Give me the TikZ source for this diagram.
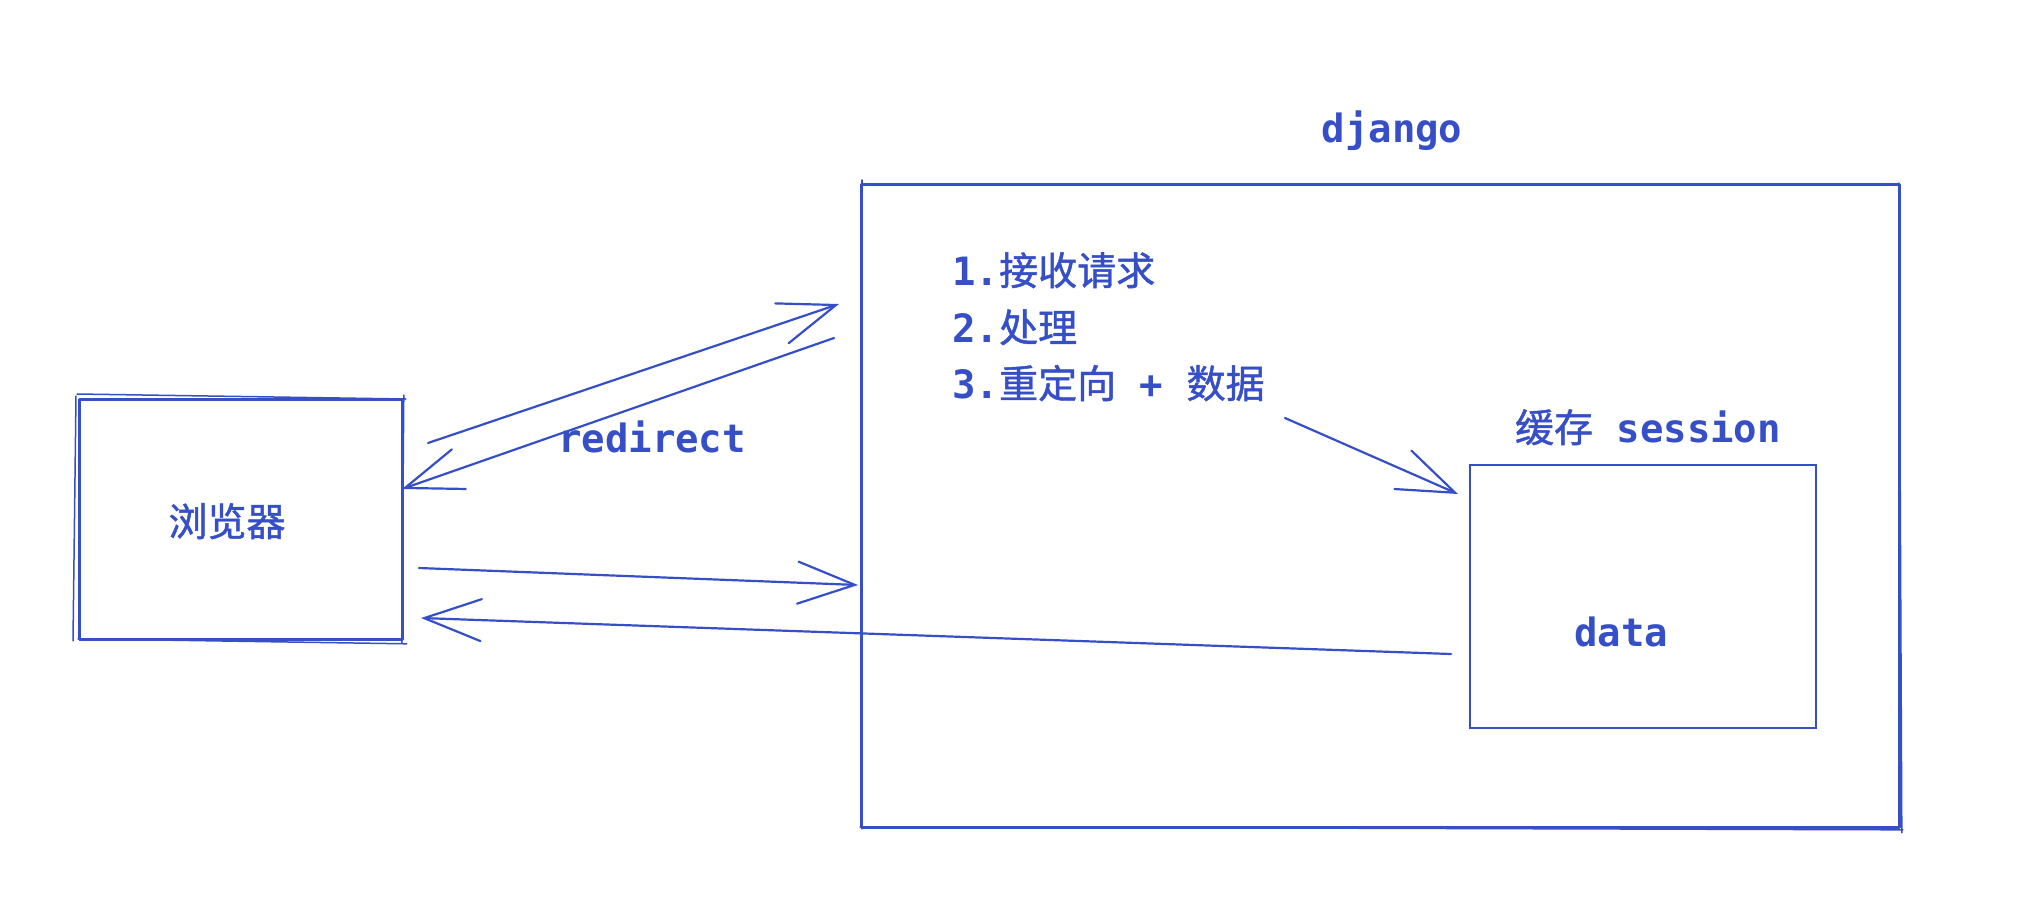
\documentclass[tikz,border=0pt]{standalone}
\usepackage{fontspec}
\usetikzlibrary{arrows.meta,calc}
\newfontfamily\cjkfont{Noto Sans CJK SC}[FakeBold=1.2]
\newfontfamily\monofont{DejaVu Sans Mono}
\newcommand\M[1]{{\monofont\bfseries #1}}
\newcommand\C[1]{{\cjkfont\mdseries #1}}
\definecolor{ink}{HTML}{364FC7}
\begin{document}
\begin{tikzpicture}[x=1pt,y=-1pt,
  boxline/.style={draw=ink,line width=2.8pt,line join=round,inner sep=0pt},
  thinbox/.style={draw=ink,line width=2pt,inner sep=0pt},
  sketchline/.style={draw=ink,line width=1.5pt,line cap=round},
  conn/.style={draw=ink,line width=2.2pt,line cap=round,line join=round,
    -{Straight Barb[length=57pt,width=42pt,line cap=round]}},
  txt/.style={text=ink,inner sep=0pt,font=\fontsize{39}{47}\selectfont}]
\useasboundingbox[fill=white] (0,0) rectangle (2044,908);

% boxes
\node[boxline,anchor=north west,minimum width=323pt,minimum height=240pt] (browser) at (78,398) {};
\node[boxline,anchor=north west,minimum width=1038pt,minimum height=643pt] (django) at (860,183) {};
\node[thinbox,anchor=north west,minimum width=346pt,minimum height=263pt] (session) at (1469,464) {};

% sketchy second strokes
\draw[sketchline] ($(browser.north west)+(-1,-4)$) -- ($(browser.north east)+(2,1)$);
\draw[sketchline] ($(browser.north west)+(-2,-2)$) -- ($(browser.south west)+(-5,0)$);
\draw[sketchline] ($(browser.north east)+(0,-3)$) -- ($(browser.south east)+(-2,2)$);
\draw[sketchline] ($(browser.south west)+(0,-2)$) -- ($(browser.south east)+(3,3)$);
\draw[sketchline] ($(django.north west)+(2,-3)$) -- ($(django.south west)+(2,0)$);
\draw[sketchline] ($(django.south west)+(0,-2)$) -- ($(django.south east)+(2,1)$);
\draw[sketchline] ($(django.north east)+(-2,0)$) -- ($(django.south east)+(1,4)$);

% texts
\node[txt,anchor=base] (djangolbl) at (1392,142) {\M{django}};
\node[txt,anchor=base] (browserlbl) at (227,536) {\C{浏览器}};
\node[txt,anchor=base west] (step1) at (952,285) {\M{1.}\C{接收请求}};
\node[txt,anchor=base west] (step2) at (952,342) {\M{2.}\C{处理}};
\node[txt,anchor=base west] (step3) at (952,398) {\M{3.}\C{重定向}\M{ + }\C{数据}};
\node[txt,anchor=base] (redirlbl) at (652,452) {\M{redirect}};
\node[txt,anchor=base] (sesslbl) at (1648,442) {\C{缓存}\M{ session}};
\node[txt,anchor=base] (datalbl) at (1621,646) {\M{data}};

% connector end points
\coordinate (a1s) at (428,443);
\coordinate (a1e) at (839,304);
\coordinate (a2s) at (834,338);
\coordinate (a2e) at (402,489);
\coordinate (a3s) at (1285,418);
\coordinate (a3e) at (1458,494);
\coordinate (a4s) at (419,568);
\coordinate (a4e) at (858,585);
\coordinate (a5s) at (1451,654);
\coordinate (a5e) at (421,618);

\draw[conn] (a1s) -- (a1e);
\draw[conn] (a2s) -- (a2e);
\draw[conn] (a3s) -- (a3e);
\draw[conn] (a4s) -- (a4e);
\draw[conn] (a5s) -- (a5e);
\end{tikzpicture}
\end{document}
